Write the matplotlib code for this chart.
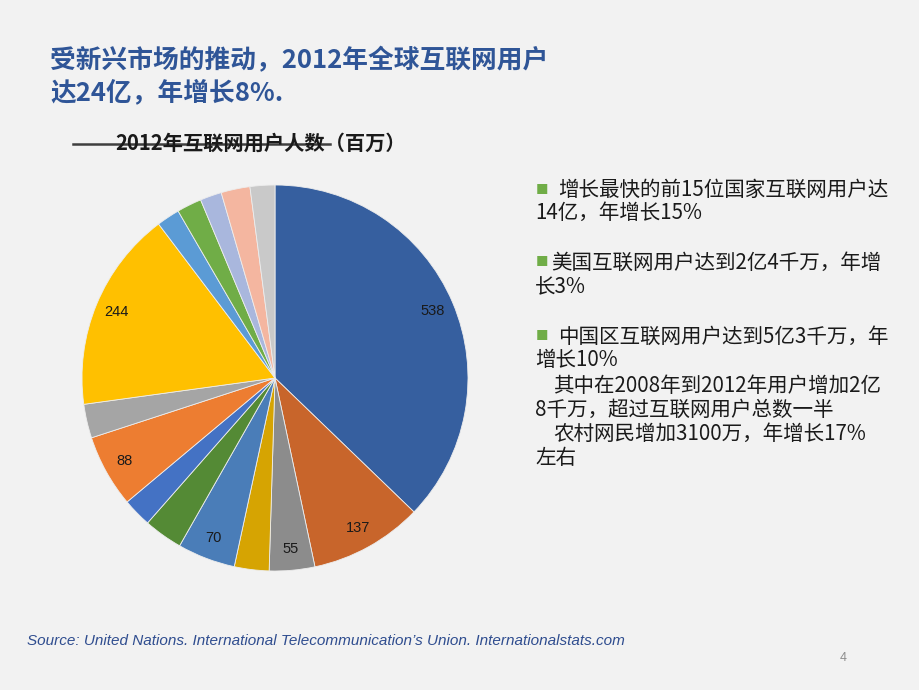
import matplotlib
matplotlib.use("Agg")
import matplotlib.pyplot as plt
from matplotlib.lines import Line2D

plt.rcParams['font.family'] = ['Noto Sans CJK SC', 'DejaVu Sans']

# Data (millions of internet users, 2012), clockwise from 12 o'clock
values = [538, 137, 55, 42, 70, 47, 35, 88, 41, 244, 28, 30, 26, 35, 30]
shown_labels = {538, 137, 55, 70, 88, 244}
colors = ['#365F9F', '#C8652B', '#8C8C8C', '#D6A402', '#4A7DB8', '#548A35',
          '#4472C4', '#ED7D31', '#A5A5A5', '#FFC000', '#5B9BD5', '#70AD47',
          '#A9B7DD', '#F4B6A0', '#C9C9C9']

title_text = "受新兴市场的推动，2012年全球互联网用户\n达24亿，年增长8%."
chart_title = "2012年互联网用户人数（百万）"
bullets = [
    ["增长最快的前15位国家互联网用户达", "14亿，年增长15%"],
    ["美国互联网用户达到2亿4千万，年增", "长3%"],
    ["中国区互联网用户达到5亿3千万，年", "增长10%", "其中在2008年到2012年用户增加2亿",
     "8千万，超过互联网用户总数一半", "农村网民增加3100万，年增长17%", "左右"],
]
source = "Source: United Nations. International Telecommunication’s Union. Internationalstats.com"

W, H = 920, 690
fig = plt.figure(figsize=(W / 100, H / 100), dpi=100)
fig.patch.set_facecolor('#F2F2F2')

def fx(x): return x / W
def fy(y): return 1 - y / H

# Pie
cx, cy, r = 275, 378, 193
ax = fig.add_axes([fx(cx - r), fy(cy + r), 2 * r / W, 2 * r / H])
ax.set_facecolor('none')
labels = [str(v) if v in shown_labels else '' for v in values]
wedges, texts = ax.pie(values, colors=colors, startangle=90, counterclock=False,
                       labels=labels, labeldistance=0.89,
                       wedgeprops=dict(edgecolor='#EDEDED', linewidth=0.6),
                       textprops=dict(fontsize=10.5, color='#1A1A1A',
                                      family=['Liberation Sans', 'DejaVu Sans']))
for t in texts:
    t.set_ha('center'); t.set_va('center')
ax.set_xlim(-1, 1); ax.set_ylim(-1, 1)
ax.set_aspect('equal')
ax.axis('off')

# Title
fig.text(fx(50), fy(77), title_text, fontsize=18.5, fontweight='bold', color='#2F5597',
         ha='left', va='center', linespacing=1.25)

# Chart title with line
fig.text(fx(261), fy(143), chart_title, fontsize=14.6, fontweight='bold', color='#1A1A1A',
         ha='center', va='center')
fig.add_artist(Line2D([fx(73), fx(330)], [fy(144), fy(144)], color='#3F3F3F', lw=1.8))

# Right-side bullet text
y_pos = [[190, 213], [263, 287], [337, 360, 386, 410, 434, 458]]
x_first = [558, 551, 558]
for bi, block in enumerate(bullets):
    ys = y_pos[bi]
    fig.text(fx(536), fy(ys[0]), "■", fontsize=9, color='#70AD47', ha='left', va='center')
    for li, line in enumerate(block):
        if li == 0:
            x = x_first[bi]
        elif bi == 2 and li in (2, 4):
            x = 553
        else:
            x = 535
        fig.text(fx(x), fy(ys[li]), line, fontsize=14.8, color='#1A1A1A', ha='left', va='center')

# Source
fig.text(fx(27), fy(641), source, fontsize=11, style='italic', color='#2F4D8F',
         family=['Liberation Sans', 'DejaVu Sans'], ha='left', va='center')
fig.text(fx(843), fy(658), "4", fontsize=9, color='#8C8C8C', ha='center', va='center',
         family=['Liberation Sans', 'DejaVu Sans'])

fig.savefig('out.png', dpi=100, facecolor=fig.get_facecolor())
